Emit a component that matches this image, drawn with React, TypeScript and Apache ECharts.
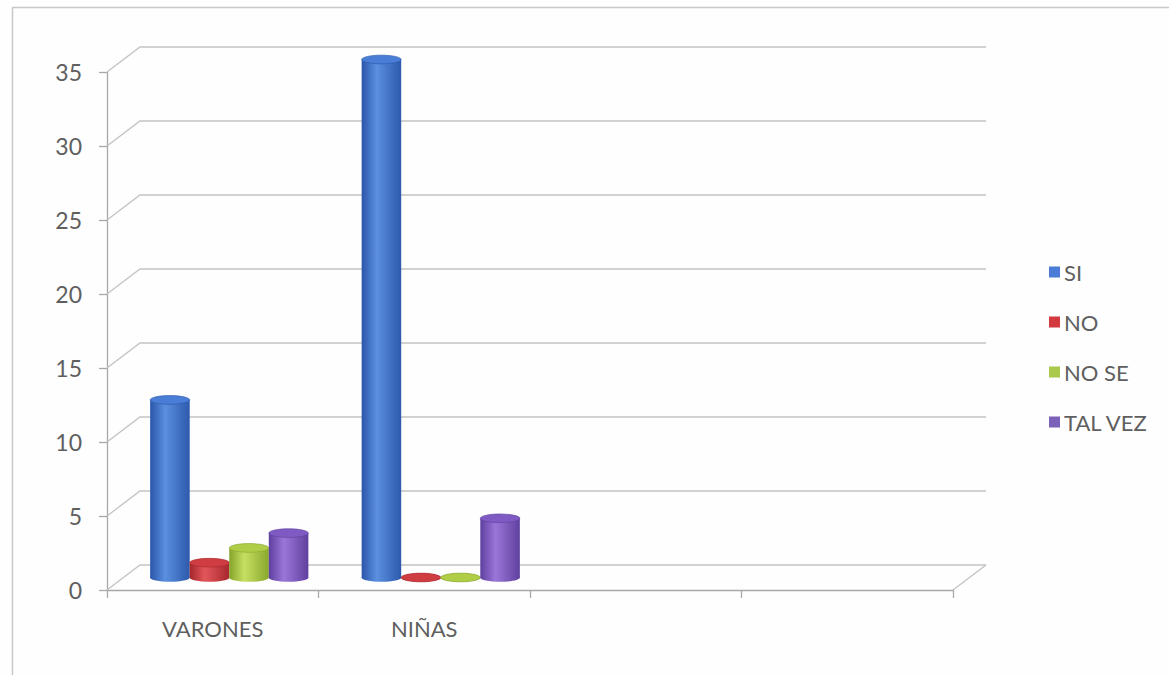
import React, { useEffect, useRef } from "react";
import * as echarts from "echarts";

// Categories along the floor (two empty slots keep the floor wide)
const categories = ["VARONES", "NIÑAS", "", ""];

// Answers per group
const siValues = [12, 35];
const noValues = [1, 0];
const noSeValues = [2, 0];
const talVezValues = [3, 4];

const seriesNames = ["SI", "NO", "NO SE", "TAL VEZ"];

// Value axis ticks
const yMin = 0;
const yMax = 35;
const yStep = 5;
const yTicks = [0, 5, 10, 15, 20, 25, 30, 35];

// Cylinder palettes: left edge, highlight, right edge, cap, legend swatch
const palettes = [
  { dark: "#2a56a8", light: "#5b8fe0", edge: "#2c59ab", cap: "#4a7ed6", legend: "#4a7ed6" },
  { dark: "#a5262b", light: "#e2565b", edge: "#a8282d", cap: "#cf3d42", legend: "#d23a40" },
  { dark: "#86a42a", light: "#c6df62", edge: "#89a82c", cap: "#b0cd48", legend: "#a9c84c" },
  { dark: "#5e3f9e", light: "#9a76d8", edge: "#60409f", cap: "#7f5ac2", legend: "#7b62b8" },
];

// 3D depth of the plot box
const DEPTH_X = 33;
const DEPTH_Y = -25;
const BAR_FRACTION = 0.187;

const FONT = "Lato, 'Open Sans', sans-serif";
const TEXT_COLOR = "#5f5f5f";
const GRID_COLOR = "#c3c3c3";
const AXIS_COLOR = "#a8a8a8";

function wallRenderer(params: any, api: any) {
  const cs = params.coordSys;
  const v = api.value(1);
  const y = api.coord([0, v])[1];
  const x0 = cs.x;
  const x1 = cs.x + cs.width;
  const children: any[] = [
    {
      type: "polyline",
      shape: {
        points: [
          [x0, y],
          [x0 + DEPTH_X, y + DEPTH_Y],
          [x1 + DEPTH_X, y + DEPTH_Y],
        ],
      },
      style: { stroke: GRID_COLOR, lineWidth: 1.3, fill: null },
    },
  ];
  if (v === yMin) {
    children.push({
      type: "line",
      shape: { x1: x1 + DEPTH_X, y1: y + DEPTH_Y, x2: x1, y2: y },
      style: { stroke: GRID_COLOR, lineWidth: 1.3 },
    });
  }
  return { type: "group", children };
}

function cylinderRenderer(idx: number) {
  const pal = palettes[idx];
  const n = seriesNames.length;
  return (params: any, api: any) => {
    const cat = api.value(0);
    const val = api.value(1);
    const top = api.coord([cat, val]);
    const bot = api.coord([cat, 0]);
    const catW = api.size([1, 0])[0];
    const bw = catW * BAR_FRACTION;
    const x = top[0] - (bw * n) / 2 + idx * bw + DEPTH_X / 2;
    const w = bw;
    const yTop = top[1] + DEPTH_Y / 2;
    const yBot = bot[1] + DEPTH_Y / 2;
    const ry = w * 0.11;
    const body = {
      type: "linear",
      x: 0,
      y: 0,
      x2: 1,
      y2: 0,
      colorStops: [
        { offset: 0, color: pal.dark },
        { offset: 0.38, color: pal.light },
        { offset: 1, color: pal.edge },
      ],
    };
    const children: any[] = [
      {
        type: "ellipse",
        shape: { cx: x + w / 2, cy: yBot, rx: w / 2, ry },
        style: { fill: body },
      },
    ];
    if (yBot - yTop > 0.5) {
      children.push({
        type: "rect",
        shape: { x, y: yTop, width: w, height: yBot - yTop },
        style: { fill: body },
      });
    }
    children.push({
      type: "ellipse",
      shape: { cx: x + w / 2, cy: yTop, rx: w / 2, ry },
      style: { fill: pal.cap, stroke: pal.dark, lineWidth: 0.6 },
    });
    return { type: "group", children };
  };
}

export default function App() {
  const ref = useRef<HTMLDivElement>(null);

  useEffect(() => {
    if (!ref.current) return;
    const chart = echarts.init(ref.current, undefined, { renderer: "svg" });

    const valueSets = [siValues, noValues, noSeValues, talVezValues];

    const barSeries = seriesNames.map((name, i) => ({
      name,
      type: "custom",
      coordinateSystem: "cartesian2d",
      z: 3,
      itemStyle: { color: palettes[i].legend },
      renderItem: cylinderRenderer(i),
      data: valueSets[i].map((v, c) => [c, v]),
    }));

    chart.setOption({
      animation: false,
      backgroundColor: "#fefefe",
      textStyle: { fontFamily: FONT },
      graphic: [
        {
          type: "line",
          shape: { x1: 12, y1: 7.5, x2: 1169, y2: 7.5 },
          style: { stroke: "#c8c8c8", lineWidth: 1.5 },
        },
        {
          type: "line",
          shape: { x1: 12.5, y1: 7, x2: 12.5, y2: 675 },
          style: { stroke: "#c8c8c8", lineWidth: 1.5 },
        },
      ],
      legend: {
        data: seriesNames,
        orient: "vertical",
        left: 1044,
        top: 256,
        itemWidth: 11,
        itemHeight: 11,
        itemGap: 28,
        icon: "rect",
        textStyle: { fontFamily: FONT, fontSize: 22, color: TEXT_COLOR, padding: [0, 0, 0, -1] },
      },
      grid: { left: 107, top: 72, width: 846, height: 518 },
      xAxis: {
        type: "category",
        data: categories,
        axisLine: { lineStyle: { color: AXIS_COLOR, width: 1.3 } },
        axisTick: { show: true, length: 8, lineStyle: { color: AXIS_COLOR, width: 1.3 } },
        axisLabel: {
          margin: 27,
          fontFamily: FONT,
          fontSize: 22,
          color: TEXT_COLOR,
        },
        splitLine: { show: false },
      },
      yAxis: {
        type: "value",
        min: yMin,
        max: yMax,
        interval: yStep,
        axisLine: { show: true, lineStyle: { color: AXIS_COLOR, width: 1.3 } },
        axisTick: { show: true, length: 8, lineStyle: { color: AXIS_COLOR, width: 1.3 } },
        axisLabel: {
          margin: 25,
          fontFamily: FONT,
          fontSize: 23,
          color: TEXT_COLOR,
        },
        splitLine: { show: false },
      },
      series: [
        {
          name: "wall",
          type: "custom",
          coordinateSystem: "cartesian2d",
          silent: true,
          z: 1,
          renderItem: wallRenderer,
          data: yTicks.map((v) => [0, v]),
        },
        ...barSeries,
      ],
    });

    return () => chart.dispose();
  }, []);

  return (
    <div
      ref={ref}
      style={{ position: "fixed", left: 0, top: 0, width: 1169, height: 675 }}
    />
  );
}
